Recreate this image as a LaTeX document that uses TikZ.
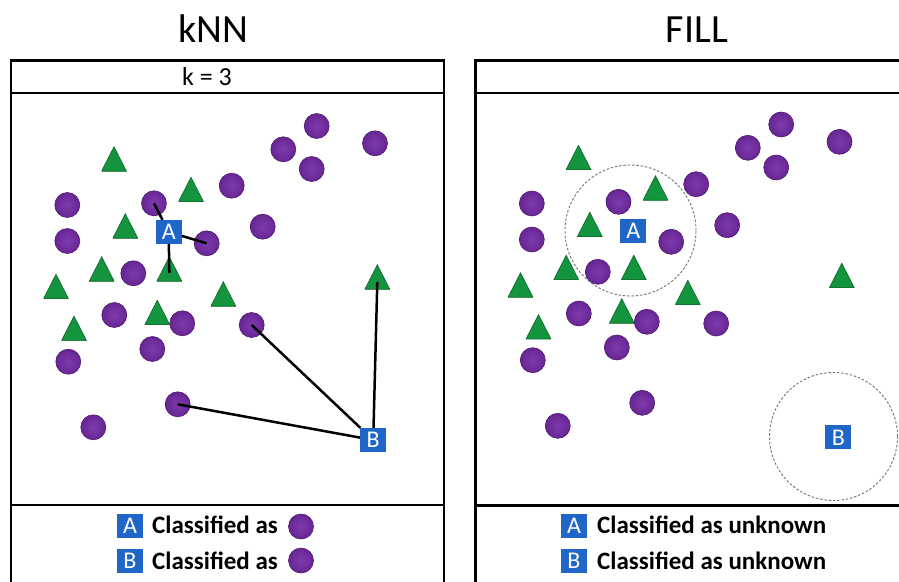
\documentclass[tikz,border=0pt]{standalone}
\usepackage{fontspec}
\setmainfont{Carlito}
\definecolor{dotlight}{RGB}{126,58,172}
\definecolor{dotdark}{RGB}{104,38,148}
\definecolor{dotedge}{RGB}{80,24,112}
\definecolor{trigreen}{RGB}{20,148,62}
\definecolor{triedge}{RGB}{10,104,40}
\definecolor{boxblue}{RGB}{32,102,200}
\tikzset{
  frame/.style={draw=black, line width=2.6pt},
  dot/.style={circle, inner sep=0pt, minimum size=25pt, inner color=dotlight,
    outer color=dotdark, draw=dotedge, line width=0.6pt},
  tri/.style={rectangle, inner sep=0pt, minimum width=25pt, minimum height=24.5pt,
    path picture={\filldraw[fill=trigreen, draw=triedge, line width=0.6pt]
      (path picture bounding box.south west) -- (path picture bounding box.south east)
      -- (path picture bounding box.north) -- cycle;}},
  lab/.style={rectangle, fill=boxblue, text=white, inner sep=0pt, minimum width=26pt,
    minimum height=24pt, font=\fontsize{24}{24}\selectfont},
  link/.style={draw=black, line width=2.5pt},
  ring/.style={circle, inner sep=0pt, draw=black!55, dash pattern=on 2.5pt off 1.8pt,
    line width=0.9pt},
  title/.style={font=\fontsize{40}{40}\selectfont, inner sep=0pt, anchor=base},
  legtext/.style={font=\fontsize{25}{25}\selectfont\bfseries, inner sep=0pt, anchor=base west},
}
% the scatter of circles and triangles, shared by both panels
\newcommand{\pointfield}[1]{%
  \foreach \n/\px/\py in {1/316.7/126, 2/283.3/149.3, 3/311.7/169, 4/375/143.3,
      5/231.7/185.7, 6/154/203.3, 7/67.3/205, 8/67.3/241, 9/206.7/243.3,
      10/262.7/226.7, 11/133.3/273.3, 12/114.3/315, 13/182.3/323.3,
      14/251.7/325, 15/152.3/349, 16/68.3/361.7, 17/177.7/404.3, 18/93.3/427.3}
    {\node[dot] (#1c\n) at (\px,\py) {};}
  \foreach \n/\px/\py in {1/114/159, 2/191/189.5, 3/125.3/226, 4/101.7/269,
      5/169.3/269, 6/56/286.5, 7/223.3/294, 8/377.3/277, 9/157.3/312.5, 10/74/328.3}
    {\node[tri] (#1t\n) at (\px,\py) {};}
}
\begin{document}
\begin{tikzpicture}[x=1pt, y=-1pt]
\useasboundingbox[fill=white] (0,0) rectangle (899,581);

% kNN panel
\node[title] (knn) at (213,42.5) {kNN};
\draw[frame] (11,60.7) rectangle (444,595);
\draw[frame] (11,93) -- (444,93);
\draw[frame] (11,505) -- (444,505);
\node[font=\fontsize{26}{26}\selectfont, inner sep=0pt, anchor=base] (kval) at (207,85) {k = 3};
\pointfield{L}
\node[lab] (LA) at (168.7,232) {A};
\node[lab] (LB) at (373.2,440) {B};
\draw[link] (LA) -- (Lc6.center);
\draw[link] (LA) -- (Lc9.center);
\draw[link] (LA) -- ([yshift=-4pt]Lt5.center);
\draw[link] (LB) -- (Lc14.center);
\draw[link] (LB) -- (Lc17.center);
\draw[link] (LB) -- ([yshift=-5pt]Lt8.center);
\node[lab] (LkeyA) at (130,525.5) {A};
\node[legtext] (LkeyAt) at (152,533.5) {Classified as};
\node[dot] (LkeyAc) at (301,526.5) {};
\node[lab] (LkeyB) at (130,561) {B};
\node[legtext] (LkeyBt) at (152,569) {Classified as};
\node[dot] (LkeyBc) at (301,560.5) {};

% FILL panel
\node[title] (fill) at (697,42) {FILL};
\draw[frame] (475.7,60.7) rectangle (925,595);
\draw[frame] (475.7,93) -- (925,93);
\draw[frame] (475.7,505.5) -- (925,505.5);
\begin{scope}[shift={(464.5,-1.5)}]
  \pointfield{R}
\end{scope}
\node[lab] (RA) at (633.2,230.5) {A};
\node[lab] (RB) at (838.3,437.3) {B};
\node[ring, minimum size=131pt] (ringA) at (630.5,230.5) {};
\node[ring, minimum size=128pt] (ringB) at (833.5,436.5) {};
\node[lab] (RkeyA) at (574,526) {A};
\node[legtext] (RkeyAt) at (597,533.5) {Classified as unknown};
\node[lab] (RkeyB) at (574,561) {B};
\node[legtext] (RkeyBt) at (597,569) {Classified as unknown};
\end{tikzpicture}
\end{document}
